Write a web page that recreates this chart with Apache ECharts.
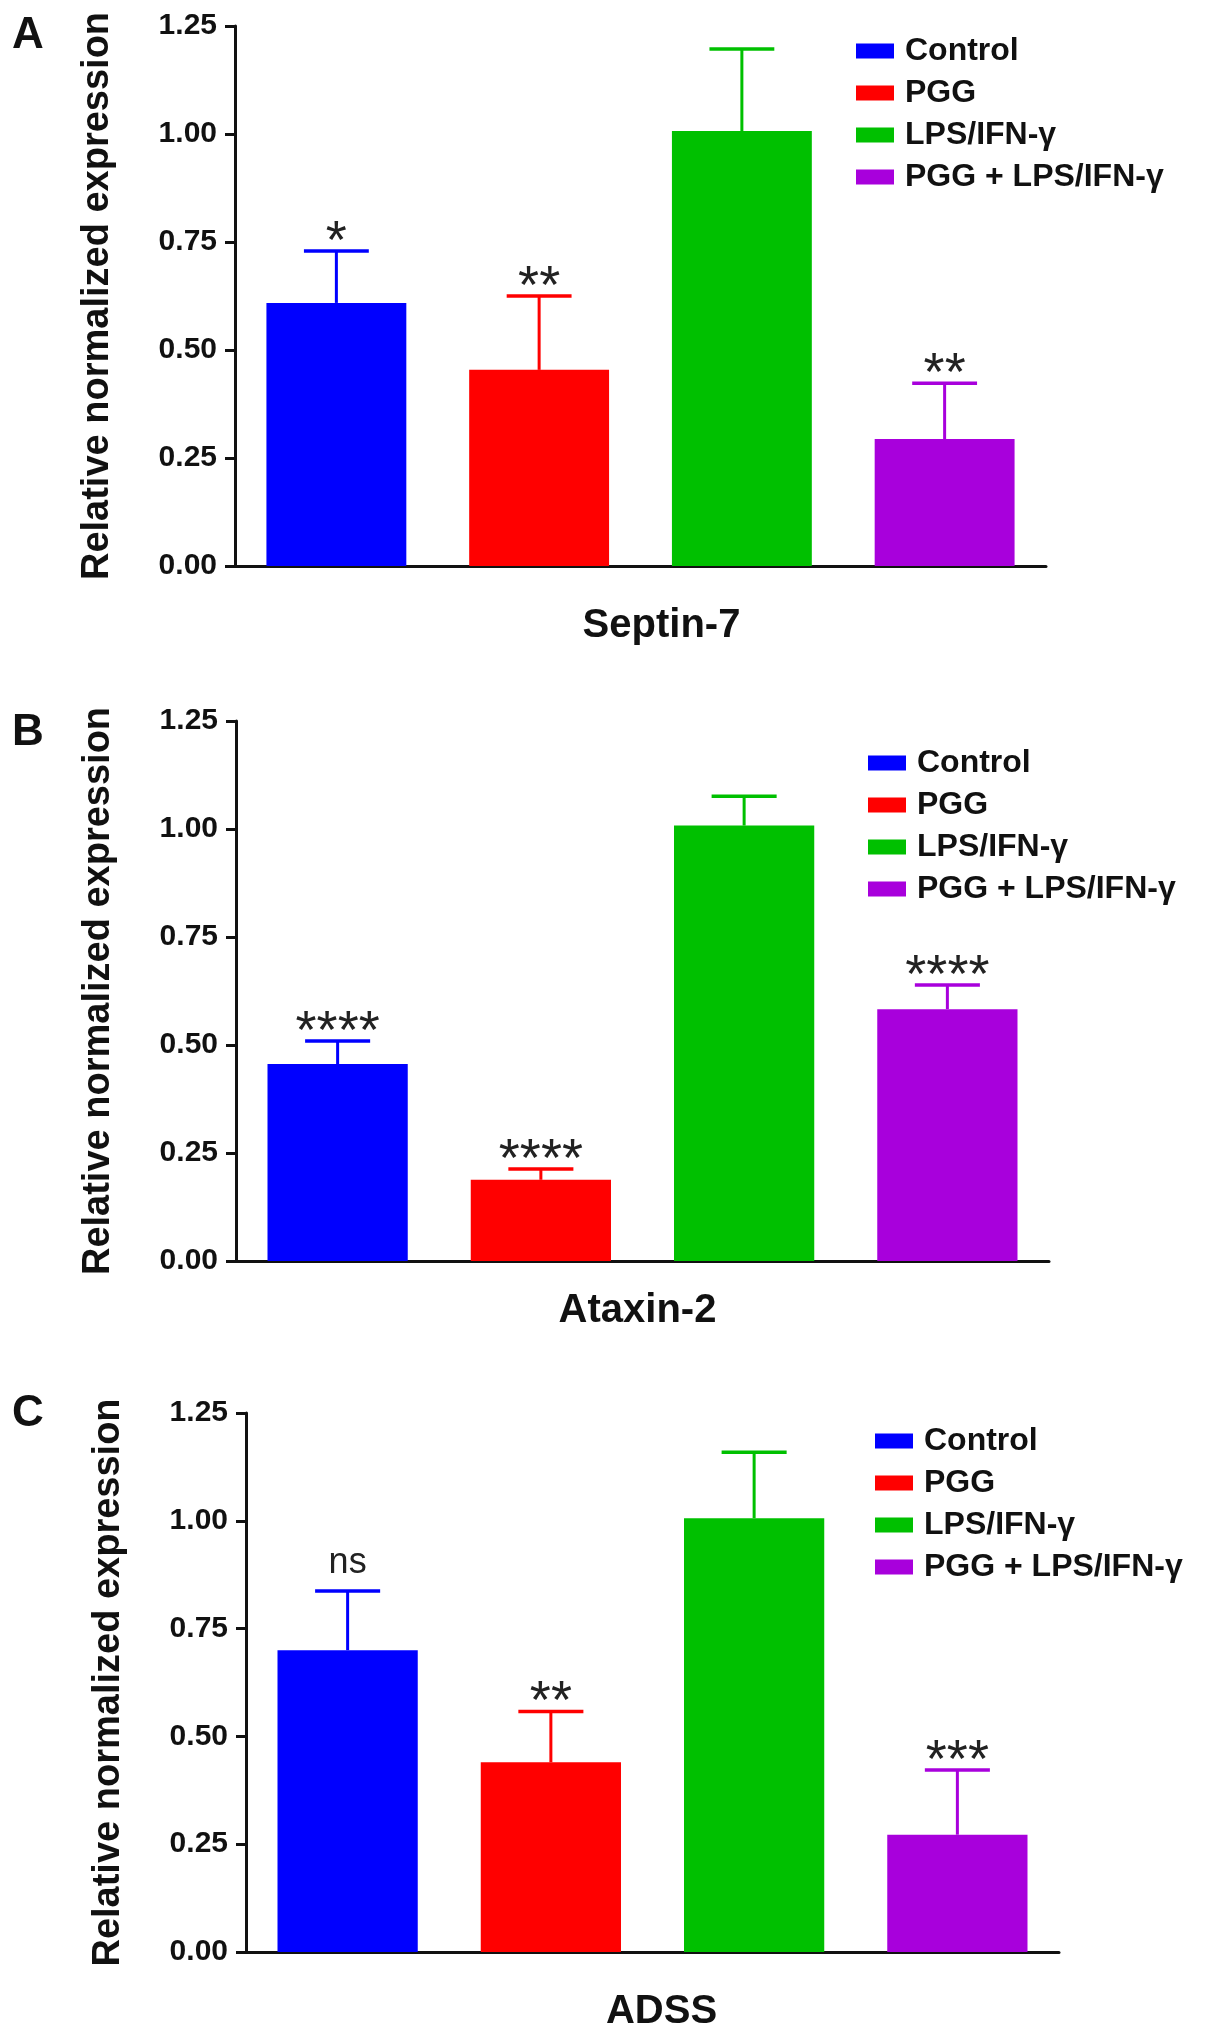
<!DOCTYPE html>
<html>
<head>
<meta charset="utf-8">
<script src="https://cdn.jsdelivr.net/npm/echarts@6/dist/echarts.min.js"></script>
<style>
  html, body { margin: 0; padding: 0; background: #fff; }
  #main { width: 1205px; height: 2039px; }
</style>
</head>
<body>
<div id="main"></div>
<script>
var chart = echarts.init(document.getElementById('main'));

// groups (shared by all three panels)
var groups = ['Control', 'PGG', 'LPS/IFN-γ', 'PGG + LPS/IFN-γ'];
var colors = ['#0000FF', '#FF0000', '#00C000', '#A800DC'];
var yTicks = [0, 0.25, 0.5, 0.75, 1.0, 1.25];

// A - Septin-7
var septinMean = [0.609, 0.454, 1.007, 0.294];
var septinErr = [0.120, 0.171, 0.190, 0.129];
var septinSig = ['*', '**', '', '**'];

// B - Ataxin-2
var ataxinMean = [0.456, 0.188, 1.008, 0.583];
var ataxinErr = [0.053, 0.025, 0.068, 0.056];
var ataxinSig = ['****', '****', '', '****'];

// C - ADSS
var adssMean = [0.700, 0.440, 1.006, 0.272];
var adssErr = [0.137, 0.118, 0.153, 0.150];
var adssSig = ['ns', '**', '', '***'];

var FONT = '"Liberation Sans", Arial, Helvetica, sans-serif';

var panels = [
    { letter: 'A', name: 'Septin-7', mean: septinMean, err: septinErr, sig: septinSig,
      grid: { left: 235, top: 26, width: 811, height: 540 },
      nameGap: 40, namePad: [0, 0, 0, 42], legend: { left: 856, top: 35 }, letterY: 40 },
    { letter: 'B', name: 'Ataxin-2', mean: ataxinMean, err: ataxinErr, sig: ataxinSig,
      grid: { left: 236, top: 721, width: 813, height: 540 },
      nameGap: 30, namePad: [0, 10, 0, 0], legend: { left: 868, top: 747 }, letterY: 737 },
    { letter: 'C', name: 'ADSS', mean: adssMean, err: adssErr, sig: adssSig,
      grid: { left: 246, top: 1413, width: 813, height: 539 },
      nameGap: 40, namePad: [0, 0, 0, 18], legend: { left: 875, top: 1425 }, letterY: 1418 }
];

var option = {
    animation: false,
    backgroundColor: '#ffffff',
    grid: [], xAxis: [], yAxis: [], legend: [], series: [], graphic: []
};

panels.forEach(function (p, k) {
    option.grid.push(p.grid);
    option.xAxis.push({
        type: 'category',
        gridIndex: k,
        data: groups,
        name: p.name,
        nameLocation: 'middle',
        nameGap: p.nameGap,
        nameTextStyle: { fontFamily: FONT, fontWeight: 'bold', fontSize: 40, color: '#111', padding: p.namePad },
        axisLine: { lineStyle: { color: '#111', width: 3 } },
        axisTick: { alignWithLabel: true, length: 13, lineStyle: { color: '#111', width: 3 } },
        axisLabel: { show: false },
        splitLine: { show: false }
    });
    option.yAxis.push({
        type: 'value',
        gridIndex: k,
        min: 0,
        max: 1.25,
        interval: 0.25,
        name: 'Relative normalized expression',
        nameLocation: 'middle',
        nameGap: 118,
        nameTextStyle: { fontFamily: FONT, fontWeight: 'bold', fontSize: 38, color: '#111' },
        axisLine: { show: true, lineStyle: { color: '#111', width: 3 } },
        axisTick: { show: true, length: 10, lineStyle: { color: '#111', width: 3 } },
        axisLabel: {
            margin: 18, fontFamily: FONT, fontWeight: 'bold', fontSize: 30, color: '#111',
            formatter: function (v) { return v.toFixed(2); }
        },
        splitLine: { show: false }
    });
    option.legend.push({
        orient: 'vertical',
        left: p.legend.left,
        top: p.legend.top,
        itemWidth: 38,
        itemHeight: 15,
        itemGap: 10,
        icon: 'rect',
        selectedMode: false,
        padding: 0,
        data: groups.slice(),
        textStyle: { fontFamily: FONT, fontWeight: 'bold', fontSize: 32, color: '#111', lineHeight: 32, padding: [0, 0, 0, 6] }
    });

    // one bar series per group, overlapping so each category gets its own colour
    groups.forEach(function (g, i) {
        var d = p.mean.map(function (v, j) { return j === i ? v : '-'; });
        option.series.push({
            type: 'bar',
            name: g,
            xAxisIndex: k,
            yAxisIndex: k,
            data: d,
            barWidth: '69%',
            barGap: '-100%',
            itemStyle: { color: colors[i] },
            emphasis: { disabled: true }
        });
    });

    // error bars (upper only) with significance marks
    option.series.push({
        type: 'custom',
        xAxisIndex: k,
        yAxisIndex: k,
        clip: false,
        z: 3,
        data: p.mean.map(function (v, j) { return [j, v, p.err[j]]; }),
        renderItem: function (params, api) {
            var j = params.dataIndex;
            var base = api.coord([api.value(0), api.value(1)]);
            var top = api.coord([api.value(0), api.value(1) + api.value(2)]);
            var half = api.size([1, 0])[0] * 0.16;
            var c = colors[j];
            var children = [
                { type: 'line', shape: { x1: base[0], y1: base[1], x2: top[0], y2: top[1] },
                  style: { stroke: c, lineWidth: 3 } },
                { type: 'line', shape: { x1: top[0] - half, y1: top[1], x2: top[0] + half, y2: top[1] },
                  style: { stroke: c, lineWidth: 3.5 } }
            ];
            var s = p.sig[j];
            if (s) {
                var ns = s === 'ns';
                children.push({
                    type: 'text',
                    style: {
                        text: s,
                        x: top[0],
                        y: top[1] - (ns ? 28 : 8),
                        align: 'center',
                        verticalAlign: 'middle',
                        font: (ns ? 'normal 36px ' : 'normal 54px ') + FONT,
                        fill: '#222'
                    }
                });
            }
            return { type: 'group', children: children };
        }
    });

    option.graphic.push({
        type: 'text',
        left: 12,
        top: p.letterY - 26,
        style: { text: p.letter, font: 'bold 44px ' + FONT, fill: '#111' }
    });
});

chart.setOption(option);
</script>
</body>
</html>
